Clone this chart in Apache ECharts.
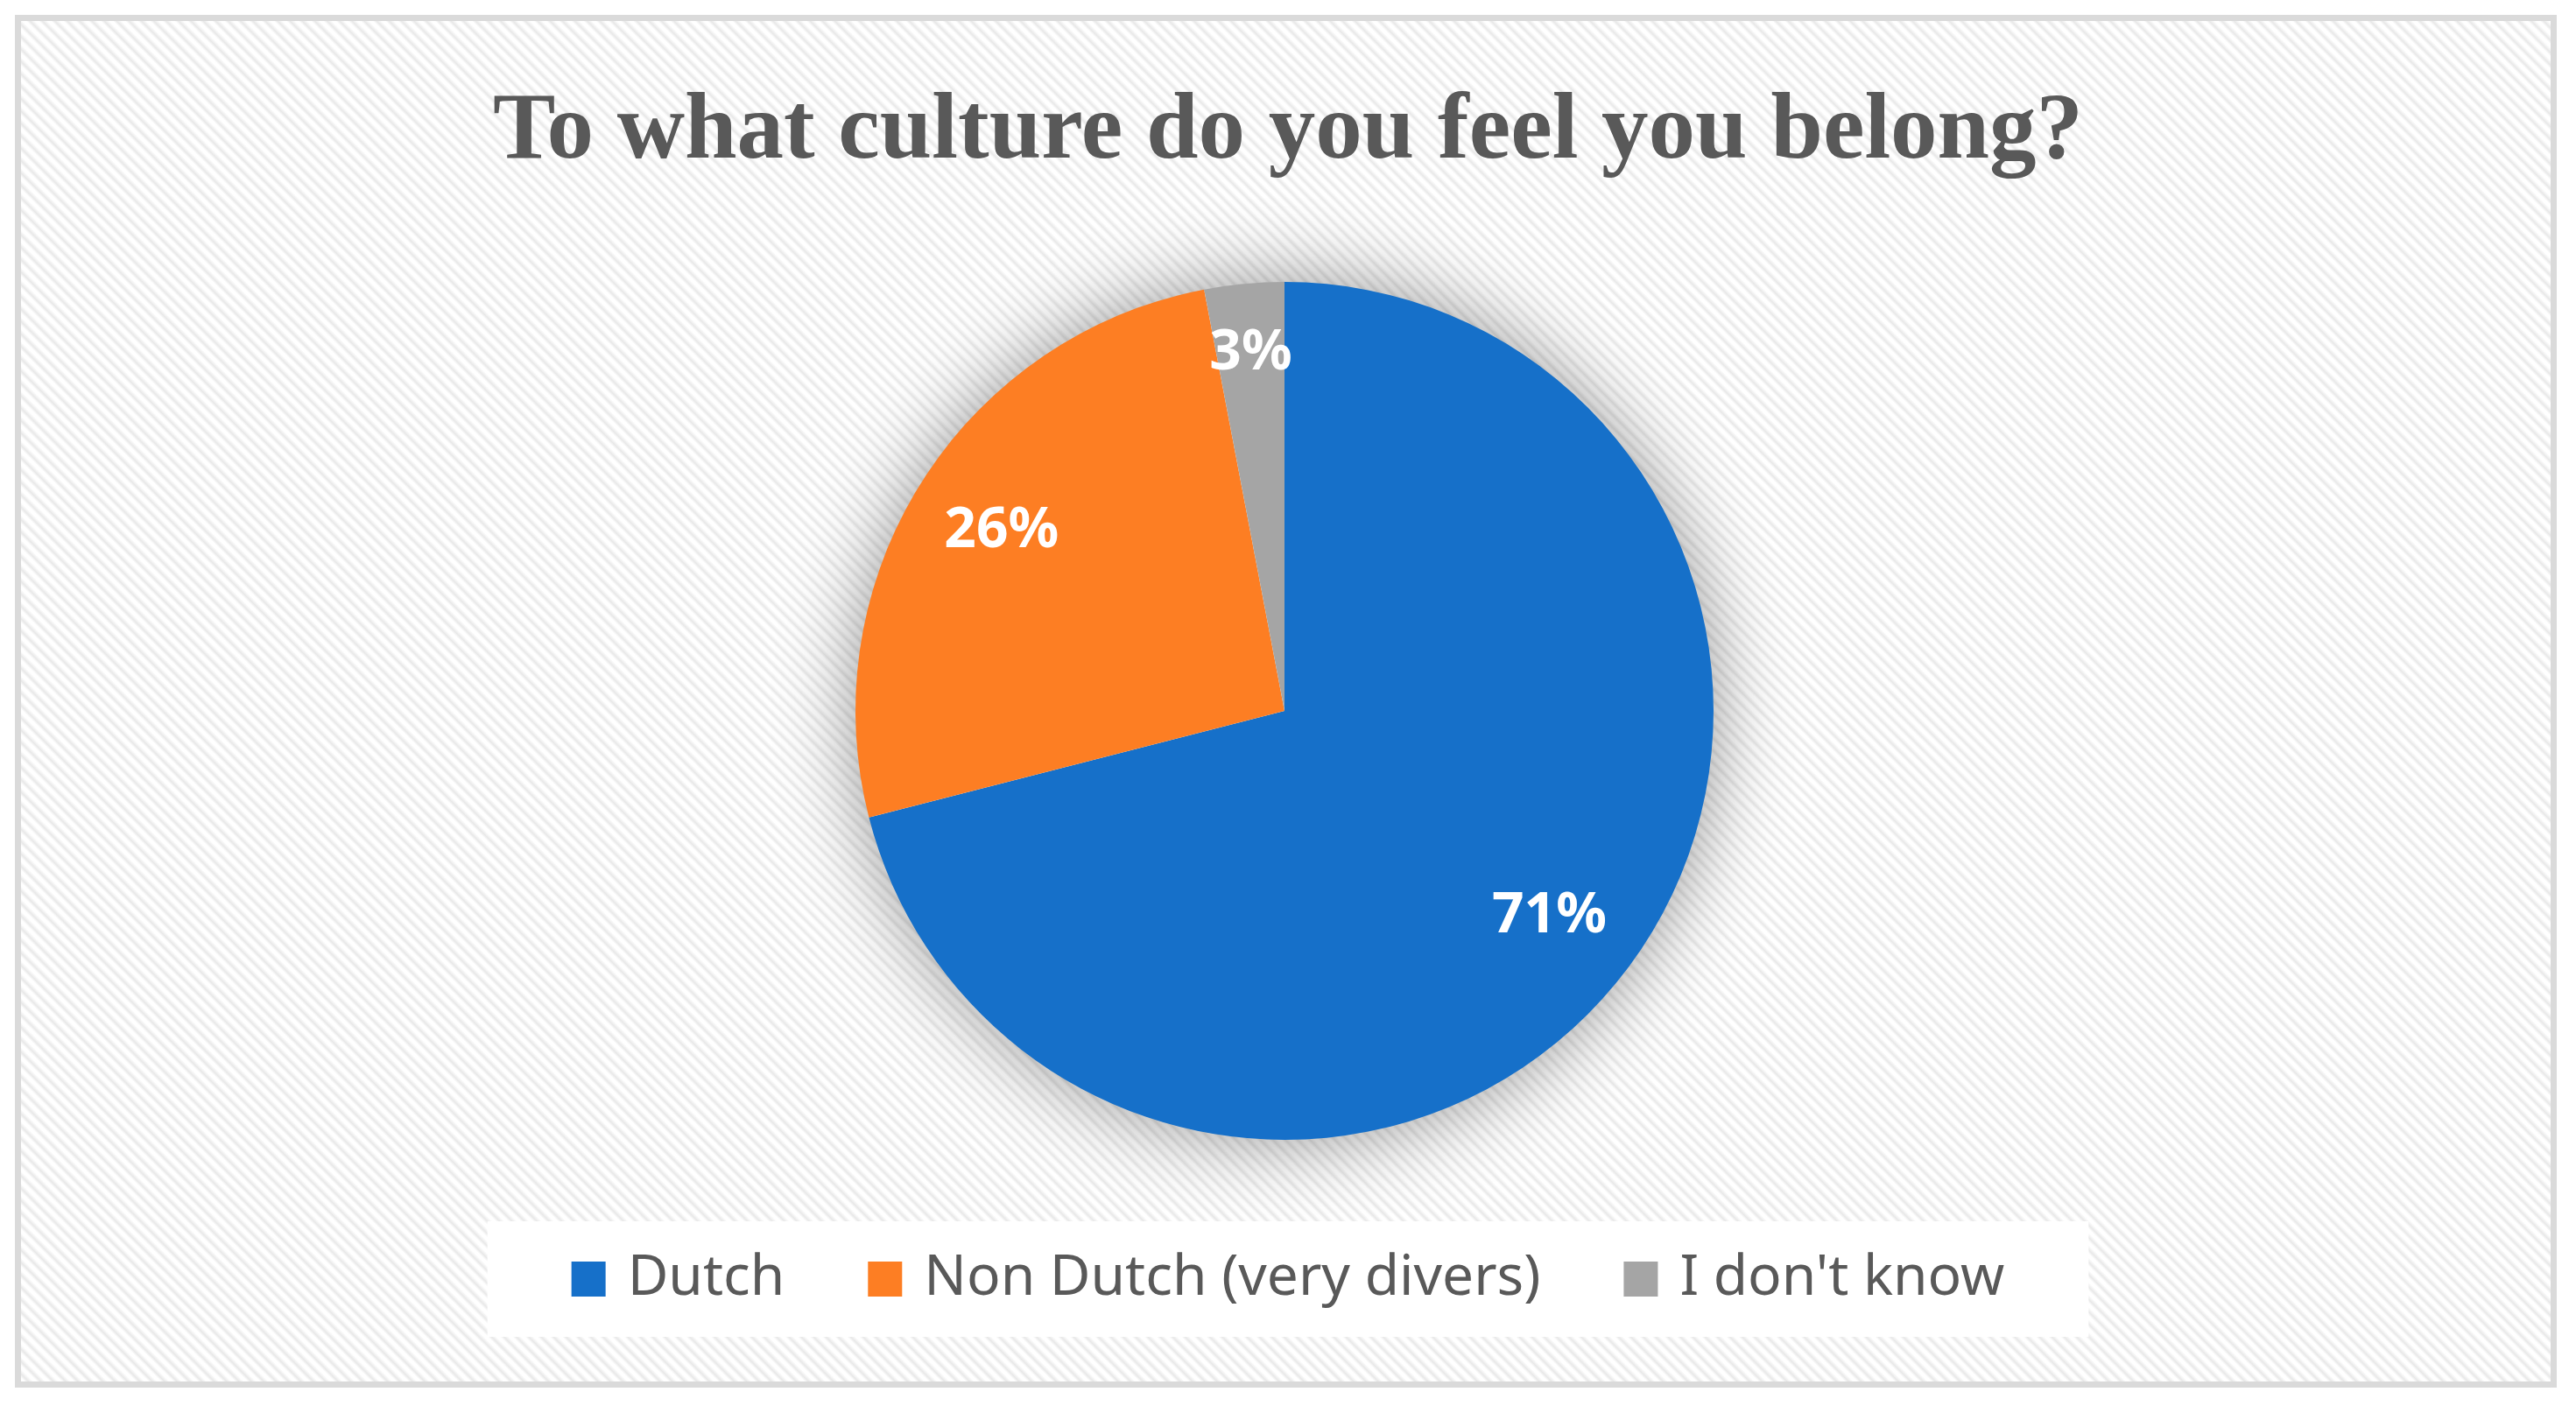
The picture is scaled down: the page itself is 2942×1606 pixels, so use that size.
<!DOCTYPE html>
<html>
<head>
<meta charset="utf-8">
<script src="https://cdn.jsdelivr.net/npm/echarts@6/dist/echarts.min.js"></script>
<style>
  html, body { margin: 0; padding: 0; background: #ffffff; width: 2942px; height: 1606px; overflow: hidden; }
  #frame {
    position: absolute; left: 17px; top: 17px; width: 2903px; height: 1568px;
    box-sizing: border-box; border: 7px solid #dadada;
    background: repeating-linear-gradient(45deg, #ffffff 0px, #ffffff 3px, #e8e8e8 6px, #ffffff 10px);
  }
  #chart { position: absolute; left: 0; top: 0; width: 2942px; height: 1606px; }
</style>
</head>
<body>
<div id="frame"></div>
<div id="chart"></div>
<script>
const titleText = 'To what culture do you feel you belong?';
const categories = ['Dutch', 'Non Dutch (very divers)', "I don't know"];
const values = [71, 26, 3];
const colors = ['#1670C9', '#FD7E23', '#A5A5A5'];

const chart = echarts.init(document.getElementById('chart'), null, { renderer: 'canvas' });

const CENTER = [1467, 812];
const R = 490;

const sliceData = categories.map((c, i) => ({ name: c, value: values[i], itemStyle: { color: colors[i] } }));

const labelStyle = {
  show: true,
  position: 'inside',
  formatter: '{d}%',
  color: '#ffffff',
  fontFamily: 'Noto Sans',
  fontWeight: 'bold',
  fontSize: 64
};

const overlayData = (showIdx) => categories.map((c, i) => ({
  name: c, value: values[i],
  itemStyle: { color: 'rgba(0,0,0,0)' },
  label: { show: showIdx.indexOf(i) >= 0 }
}));

chart.setOption({
  backgroundColor: 'transparent',
  animation: false,
  title: {
    text: titleText,
    left: 'center',
    top: 94,
    textStyle: { fontFamily: 'Liberation Serif', fontWeight: 'bold', fontSize: 107, color: '#595959' }
  },
  legend: {
    data: categories,
    left: 'center',
    top: 1395,
    icon: 'rect',
    itemWidth: 39,
    itemHeight: 40,
    itemGap: 95,
    padding: [34, 96],
    backgroundColor: '#ffffff',
    textStyle: { fontFamily: 'Noto Sans', fontSize: 64, color: '#595959', padding: [0, 0, 0, 20] },
    selectedMode: false
  },
  series: [
    {
      // soft shadow under the pie
      type: 'pie', silent: true, center: CENTER, radius: R - 2,
      label: { show: false }, labelLine: { show: false },
      data: [{ value: 1, name: '_shadow', itemStyle: { color: '#ffffff', shadowBlur: 90, shadowColor: 'rgba(0,0,0,0.42)' } }],
      legendHoverLink: false
    },
    {
      type: 'pie', center: CENTER, radius: R, startAngle: 90, clockwise: true,
      label: { show: false }, labelLine: { show: false },
      itemStyle: { borderWidth: 0 },
      data: sliceData
    },
    {
      type: 'pie', silent: true, center: CENTER, radius: [0.55 * R, R], startAngle: 90, clockwise: true,
      label: labelStyle, labelLine: { show: false },
      data: overlayData([0, 1]),
      legendHoverLink: false
    },
    {
      type: 'pie', silent: true, center: CENTER, radius: [0.66 * R, R], startAngle: 90, clockwise: true,
      label: labelStyle, labelLine: { show: false },
      data: overlayData([2]),
      legendHoverLink: false
    }
  ]
});
</script>
</body>
</html>
